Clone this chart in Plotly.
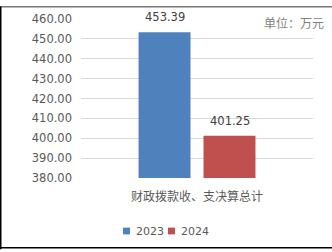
import plotly.graph_objects as go

categories = ["财政拨款收、支决算总计"]
years = ["2023", "2024"]
values_2023 = [453.39]
values_2024 = [401.25]
colors = ["#4F81BD", "#C0504D"]
tick_vals = [380, 390, 400, 410, 420, 430, 440, 450, 460]
tick_text = [f"{v:.2f}" for v in tick_vals]

W, H = 332, 252
ML, MR, MT, MB = 81, 19, 13, 74
PW, PH = W - ML - MR, H - MT - MB
CJK = "Noto Sans CJK SC, Microsoft YaHei, sans-serif"
NUM = "DejaVu Sans, Verdana, sans-serif"
GRAY = "#595959"

def px(x):
    return (x - ML) / PW

def py(y):
    return 1 - (y - MT) / PH

fig = go.Figure()
series = [values_2023, values_2024]
offsets = [-32.5, 32.5]
annotations = []
for name, vals, c, off in zip(years, series, colors, offsets):
    fig.add_trace(go.Bar(x=categories, y=vals, name=name, marker_color=c,
                         marker_line_width=0, showlegend=False))
    for cat, v in zip(categories, vals):
        annotations.append(dict(x=cat, y=v, xref="x", yref="y", text=f"{v:.2f}",
                                showarrow=False, xshift=off, yshift=15, yanchor="middle",
                                font=dict(family=NUM, size=11.5, color="#404040")))

# unit note
annotations.append(dict(text="单位：万元", xref="paper", yref="paper", x=px(326), y=py(17),
                        xanchor="right", yanchor="middle", showarrow=False,
                        font=dict(size=12, color="#7F7F7F", family=CJK)))

shapes = [
    dict(type="line", xref="paper", yref="paper", x0=px(0.75), x1=px(0.75), y0=py(0), y1=py(H), line=dict(color="black", width=1.5)),
    dict(type="line", xref="paper", yref="paper", x0=px(0), x1=px(W), y0=py(0.4), y1=py(0.4), line=dict(color="black", width=0.8)),
    dict(type="line", xref="paper", yref="paper", x0=px(0), x1=px(W), y0=py(250.5), y1=py(250.5), line=dict(color="black", width=1.5)),
]

# custom legend
leg_x = [123, 168]
for name, c, lx in zip(years, colors, leg_x):
    shapes.append(dict(type="rect", xref="paper", yref="paper", x0=px(lx), x1=px(lx + 7),
                       y0=py(236.5), y1=py(229.5), fillcolor=c, line=dict(width=0)))
    annotations.append(dict(text=name, xref="paper", yref="paper", x=px(lx + 11), y=py(233),
                            xanchor="left", yanchor="middle", showarrow=False,
                            font=dict(family=NUM, size=11, color=GRAY)))

fig.update_layout(
    width=W, height=H,
    margin=dict(l=ML, r=MR, t=MT, b=MB),
    paper_bgcolor="white", plot_bgcolor="white",
    barmode="group", bargap=0.44, bargroupgap=0.2,
    font=dict(family=CJK, color=GRAY, size=12),
    showlegend=False,
    shapes=shapes,
    annotations=annotations,
)
fig.update_xaxes(showgrid=False, showline=False, ticks="", ticklabelstandoff=10,
                 tickfont=dict(size=12, color=GRAY, family=CJK))
fig.update_yaxes(range=[380, 460], tickvals=tick_vals, ticktext=tick_text,
                 showgrid=True, gridcolor="#D9D9D9", gridwidth=1, zeroline=False,
                 showline=False, ticks="", ticklabelstandoff=8,
                 tickfont=dict(size=11.5, color=GRAY, family=NUM))

fig.write_html("out.html")
